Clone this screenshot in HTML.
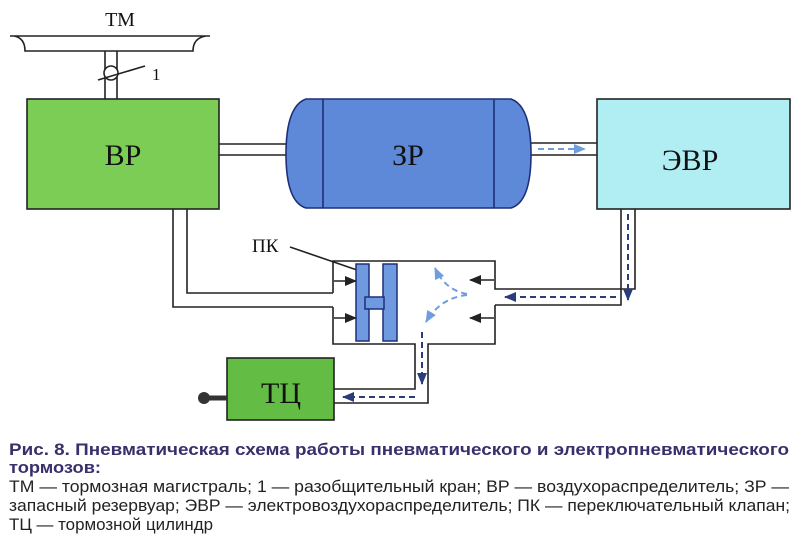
<!DOCTYPE html>
<html><head><meta charset="utf-8"><style>
html,body{margin:0;padding:0;background:#fff;}
svg{display:block;}
</style></head><body>
<svg width="800" height="545" viewBox="0 0 800 545" xmlns="http://www.w3.org/2000/svg">
<defs>
<marker id="ab" markerWidth="12" markerHeight="10" refX="11" refY="5" orient="auto" markerUnits="userSpaceOnUse"><path d="M0,0 L12,5 L0,10 Z" fill="#222"/></marker>
<marker id="an" markerWidth="12" markerHeight="10" refX="11" refY="5" orient="auto" markerUnits="userSpaceOnUse"><path d="M0,0 L12,5 L0,10 Z" fill="#2b3c7a"/></marker>
<marker id="al" markerWidth="12" markerHeight="10" refX="11" refY="5" orient="auto" markerUnits="userSpaceOnUse"><path d="M0,0 L12,5 L0,10 Z" fill="#6f9ede"/></marker>
</defs>
<g stroke="#222" stroke-width="1.6" fill="none">
<path d="M10,36 L210,36 M14,36 Q25,38 25,51 L193,51 Q193,38 206,36"/>
<path d="M105,51 V99 M117,51 V99"/>
<circle cx="111" cy="73" r="7" fill="#fff"/>
<path d="M98,80 L145,66"/>
<path d="M219,144 H286 M219,155 H286"/>
<path d="M531,143 H597 M531,155 H597"/>
<path d="M173,208 V307 H333 M187,208 V293 H333"/>
<path d="M333,293 V261 H495 V289 H635 V208 M333,307 V344 H415 V389 H334 M495,305 V344 H428 V403 H334 M495,305 H621 V208"/>
<path d="M290,247 L357,270"/>
</g>
<rect x="27" y="99" width="192" height="110" fill="#7ccd55" stroke="#222" stroke-width="1.6"/>
<rect x="597" y="99" width="193" height="110" fill="#b1eef3" stroke="#222" stroke-width="1.6"/>
<rect x="227" y="358" width="107" height="62" fill="#63bd45" stroke="#222" stroke-width="1.6"/>
<path d="M306,99 H511 Q531,106 531,154 Q531,202 511,208 H306 Q286,202 286,154 Q286,106 306,99 Z" fill="#5d89d8" stroke="#1e2f7a" stroke-width="1.6"/>
<path d="M323,99 V208 M494,99 V208" stroke="#1e2f7a" stroke-width="1.6"/>
<line x1="204" y1="398" x2="227" y2="398" stroke="#333" stroke-width="5"/>
<circle cx="204" cy="398" r="6" fill="#333"/>
<g fill="#6f9ae0" stroke="#1e2f7a" stroke-width="1.5">
<rect x="356" y="264" width="13" height="77"/>
<rect x="383" y="264" width="14" height="77"/>
<rect x="365" y="297" width="19" height="12"/>
</g>
<g stroke="#222" stroke-width="1.6" marker-end="url(#ab)">
<line x1="334" y1="281" x2="356" y2="281"/>
<line x1="334" y1="318" x2="356" y2="318"/>
<line x1="494" y1="280" x2="470" y2="280"/>
<line x1="494" y1="318" x2="470" y2="318"/>
</g>
<g fill="none" stroke-width="2" stroke-dasharray="6,4">
<path d="M628,214 V300" stroke="#2b3c7a" marker-end="url(#an)"/>
<path d="M616,297 H505" stroke="#2b3c7a" marker-end="url(#an)"/>
<path d="M422,332 V384" stroke="#2b3c7a" marker-end="url(#an)"/>
<path d="M415,397 H343" stroke="#2b3c7a" marker-end="url(#an)"/>
<path d="M538,149 H585" stroke="#6f9ede" marker-end="url(#al)"/>
<path d="M467,294 Q445,290 435,268" stroke="#6f9ede" marker-end="url(#al)"/>
<path d="M467,295 Q440,298 426,322" stroke="#6f9ede" marker-end="url(#al)"/>
</g>
<g font-family="Liberation Serif, serif" fill="#111">
<text x="120" y="26" font-size="20" text-anchor="middle">ТМ</text>
<text x="152" y="80" font-size="17">1</text>
<text x="123" y="165" font-size="30" text-anchor="middle">ВР</text>
<text x="408" y="165" font-size="30" text-anchor="middle">ЗР</text>
<text x="690" y="170" font-size="30" text-anchor="middle">ЭВР</text>
<text x="281" y="403" font-size="30" text-anchor="middle">ТЦ</text>
<text x="252" y="252" font-size="19">ПК</text>
</g>
<g font-family="Liberation Sans Narrow, Liberation Sans, sans-serif" font-size="16.5">
<text x="9" y="455" font-weight="bold" fill="#3b2f6b" textLength="780" lengthAdjust="spacingAndGlyphs">Рис. 8. Пневматическая схема работы пневматического и электропневматического</text>
<text x="9" y="473" font-weight="bold" fill="#3b2f6b" textLength="92" lengthAdjust="spacingAndGlyphs">тормозов:</text>
<text x="9" y="492" fill="#222" textLength="780" lengthAdjust="spacingAndGlyphs">ТМ — тормозная магистраль; 1 — разобщительный кран; ВР — воздухораспределитель; ЗР —</text>
<text x="9" y="511" fill="#222" textLength="781" lengthAdjust="spacingAndGlyphs">запасный резервуар; ЭВР — электровоздухораспределитель; ПК — переключательный клапан;</text>
<text x="9" y="530" fill="#222" textLength="204" lengthAdjust="spacingAndGlyphs">ТЦ — тормозной цилиндр</text>
</g>
</svg>
</body></html>
